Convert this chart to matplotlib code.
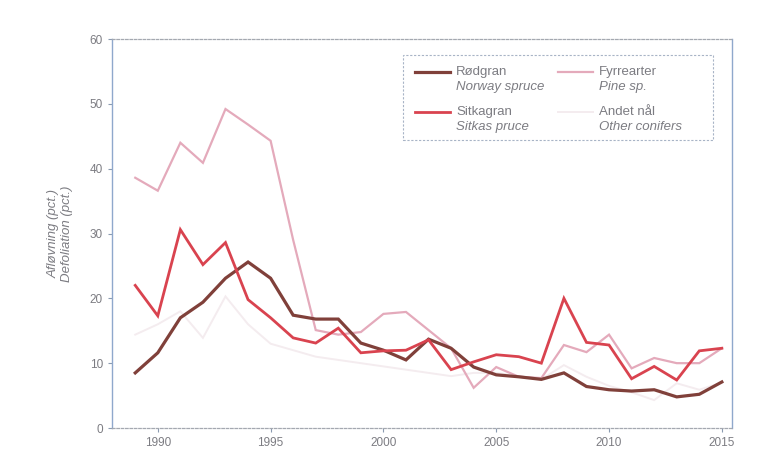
import numpy as np
import matplotlib
matplotlib.use("Agg")
import matplotlib.pyplot as plt
from matplotlib.lines import Line2D
from matplotlib.patches import Rectangle

plt.rcParams["font.family"] = ["Liberation Sans", "DejaVu Sans"]

YEARS = list(range(1989, 2016))
# Rødgran / Norway spruce
NORWAY = [8.5, 11.6, 17.0, 19.4, 23.1, 25.6, 23.1, 17.4, 16.8, 16.8, 13.1, 12.0, 10.5, 13.7, 12.3,
          9.4, 8.2, 7.9, 7.5, 8.5, 6.4, 5.9, 5.7, 5.9, 4.8, 5.2, 7.1]
# Sitkagran / Sitka spruce
SITKA = [22.0, 17.3, 30.6, 25.2, 28.6, 19.8, 17.0, 13.9, 13.1, 15.4, 11.6, 11.9, 12.0, 13.6, 9.0,
         10.2, 11.3, 11.0, 10.0, 20.0, 13.2, 12.8, 7.6, 9.5, 7.4, 11.9, 12.3]
# Fyrrearter / Pine sp.
PINE = [38.6, 36.6, 44.0, 40.9, 49.2, 46.8, 44.3, 29.0, 15.1, 14.4, 14.8, 17.6, 17.9, 15.1, 12.3,
        6.2, 9.4, 7.9, 7.7, 12.8, 11.7, 14.4, 9.2, 10.8, 10.0, 10.0, 12.3]
# Andet nål / Other conifers (very faint in the original)
OTHER = [14.4, 16.0, 18.0, 13.9, 20.3, 16.0, 13.0, 12.0, 11.0, 10.5, 10.0, 9.5, 9.0, 8.5, 8.0,
         8.5, 8.5, 8.0, 7.5, 9.7, 7.9, 6.5, 5.5, 4.3, 6.9, 5.9, 7.0]

SERIES = [
    ("Rødgran", "Norway spruce", NORWAY, "#80403a", 2.3),
    ("Fyrrearter", "Pine sp.", PINE, "#e4aabb", 1.6),
    ("Sitkagran", "Sitkas pruce", SITKA, "#d9434f", 2.0),
    ("Andet nål", "Other conifers", OTHER, "#f4ecef", 1.4),
]
TXT = "#7c7c82"

fig = plt.figure(figsize=(7.79, 4.61), dpi=100)
ax = fig.add_axes([112 / 779, 1 - 428 / 461, 620 / 779, 389 / 461])

for name, eng, vals, col, lw in [SERIES[3], SERIES[1], SERIES[0], SERIES[2]]:
    ax.plot(YEARS, vals, color=col, lw=lw, solid_joinstyle="miter")

ax.set_xlim(1987.97, 2015.45)
ax.set_ylim(0, 60)
ax.set_xticks([1990, 1995, 2000, 2005, 2010, 2015])
ax.set_yticks(range(0, 61, 10))
ax.tick_params(colors="#8a9ab0", labelcolor=TXT, labelsize=8.5, length=3, width=0.8)

for s in ("left", "right"):
    ax.spines[s].set_color("#8fa8cc")
    ax.spines[s].set_linewidth(1.0)
for s in ("top", "bottom"):
    ax.spines[s].set_color("#a4a8b0")
    ax.spines[s].set_linestyle((0, (2, 1.5)))
    ax.spines[s].set_linewidth(0.9)

ax.set_ylabel("Afløvning (pct.)\nDefoliation (pct.)", fontsize=9.5, style="italic",
              color=TXT, labelpad=12, linespacing=1.1)

# legend box drawn by hand (handles sit on the first text line)
ax.add_patch(Rectangle((0.469, 0.740), 0.500, 0.219, transform=ax.transAxes, fill=False,
                       ec="#a8b4c6", lw=0.8, ls=(0, (2, 1.5)), zorder=5))
slots = [(0.489, 0.915), (0.719, 0.915), (0.489, 0.812), (0.719, 0.812)]
for (name, eng, vals, col, lw), (x0, y0) in zip(SERIES, slots):
    ax.add_line(Line2D([x0, x0 + 0.056], [y0, y0], transform=ax.transAxes, color=col, lw=lw, zorder=6))
    ax.text(x0 + 0.066, y0, name, transform=ax.transAxes, fontsize=9.5, color=TXT, va="center", zorder=6)
    ax.text(x0 + 0.066, y0 - 0.039, eng, transform=ax.transAxes, fontsize=9.5, color=TXT,
            style="italic", va="center", zorder=6)

fig.savefig("out.png", dpi=100)
